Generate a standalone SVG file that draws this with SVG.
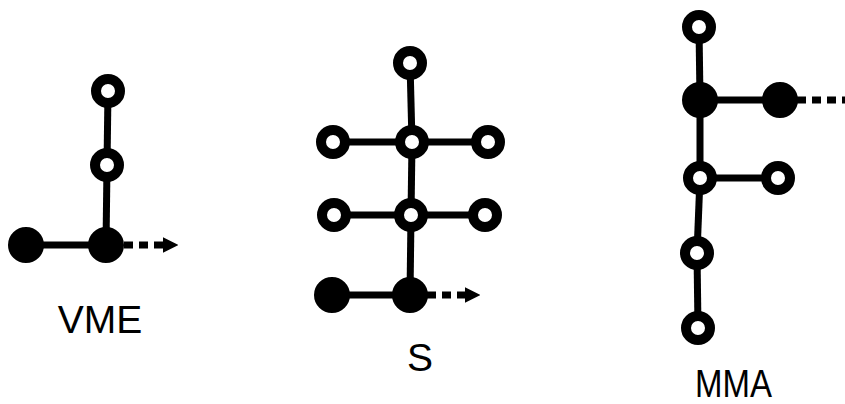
<svg xmlns="http://www.w3.org/2000/svg" width="845" height="404" viewBox="0 0 845 404">
<defs>
<style>
.edge{stroke:#000;stroke-width:7;fill:none}
.dash{stroke:#000;stroke-width:7;fill:none;stroke-dasharray:9 6}
.open{fill:#fff;stroke:#000;stroke-width:10}
.full{fill:#000;stroke:#000;stroke-width:2}
.lbl{font-family:"Liberation Sans","DejaVu Sans",sans-serif;font-size:39px;fill:#000}
</style>
<marker id="ah" viewBox="0 0 10 10" refX="2" refY="5" markerWidth="2.2" markerHeight="2.2" orient="auto" markerUnits="strokeWidth">
<path d="M0,0 L10,5 L0,10 z" fill="#000"/>
</marker>
</defs>
<rect width="845" height="404" fill="#fff"/>
<g id="connectors">
<!-- VME -->
<line class="edge" x1="108" y1="91" x2="107" y2="165"/>
<line class="edge" x1="107" y1="165" x2="106" y2="245"/>
<line class="edge" x1="26" y1="245" x2="106" y2="245"/>
<line class="dash" x1="124" y1="245" x2="166" y2="245" marker-end="url(#ah)"/>
<!-- S -->
<line class="edge" x1="410" y1="63" x2="412" y2="142"/>
<line class="edge" x1="412" y1="142" x2="411" y2="215"/>
<line class="edge" x1="411" y1="215" x2="410" y2="295"/>
<line class="edge" x1="333" y1="142" x2="488" y2="142"/>
<line class="edge" x1="334" y1="215" x2="485" y2="215"/>
<line class="edge" x1="332" y1="295" x2="410" y2="295"/>
<line class="dash" x1="427" y1="295" x2="468" y2="295" marker-end="url(#ah)"/>
<!-- MMA -->
<line class="edge" x1="699" y1="27" x2="700" y2="100"/>
<line class="edge" x1="700" y1="100" x2="700" y2="178"/>
<line class="edge" x1="700" y1="178" x2="697" y2="253"/>
<line class="edge" x1="697" y1="253" x2="698" y2="328"/>
<line class="edge" x1="700" y1="100" x2="780" y2="100"/>
<line class="edge" x1="700" y1="178" x2="778" y2="178"/>
<line class="dash" x1="797" y1="100" x2="845" y2="100"/>
</g>
<g id="vme">
<g id="vme-n1"><circle class="open" cx="108" cy="91" r="12"/></g>
<g id="vme-n2"><circle class="open" cx="107" cy="165" r="12"/></g>
<g id="vme-n3"><circle class="full" cx="106" cy="245" r="17"/></g>
<g id="vme-n4"><circle class="full" cx="26" cy="245" r="17"/></g>
<text class="lbl" x="100" y="333" text-anchor="middle">VME</text>
</g>
<g id="s">
<g id="s-n1"><circle class="open" cx="410" cy="63" r="12"/></g>
<g id="s-n2"><circle class="open" cx="333" cy="142" r="12"/></g>
<g id="s-n3"><circle class="open" cx="412" cy="142" r="12"/></g>
<g id="s-n4"><circle class="open" cx="488" cy="142" r="12"/></g>
<g id="s-n5"><circle class="open" cx="334" cy="215" r="12"/></g>
<g id="s-n6"><circle class="open" cx="411" cy="215" r="12"/></g>
<g id="s-n7"><circle class="open" cx="485" cy="215" r="12"/></g>
<g id="s-n8"><circle class="full" cx="332" cy="295" r="17"/></g>
<g id="s-n9"><circle class="full" cx="410" cy="295" r="17"/></g>
<text class="lbl" x="420" y="371" text-anchor="middle">S</text>
</g>
<g id="mma">
<g id="mma-n1"><circle class="open" cx="699" cy="27" r="12"/></g>
<g id="mma-n2"><circle class="full" cx="700" cy="100" r="17"/></g>
<g id="mma-n3"><circle class="full" cx="780" cy="100" r="17"/></g>
<g id="mma-n4"><circle class="open" cx="700" cy="178" r="12"/></g>
<g id="mma-n5"><circle class="open" cx="778" cy="178" r="12"/></g>
<g id="mma-n6"><circle class="open" cx="697" cy="253" r="12"/></g>
<g id="mma-n7"><circle class="open" cx="698" cy="328" r="12"/></g>
<text class="lbl" x="695" y="397" textLength="77" lengthAdjust="spacingAndGlyphs">MMA</text>
</g>
</svg>
